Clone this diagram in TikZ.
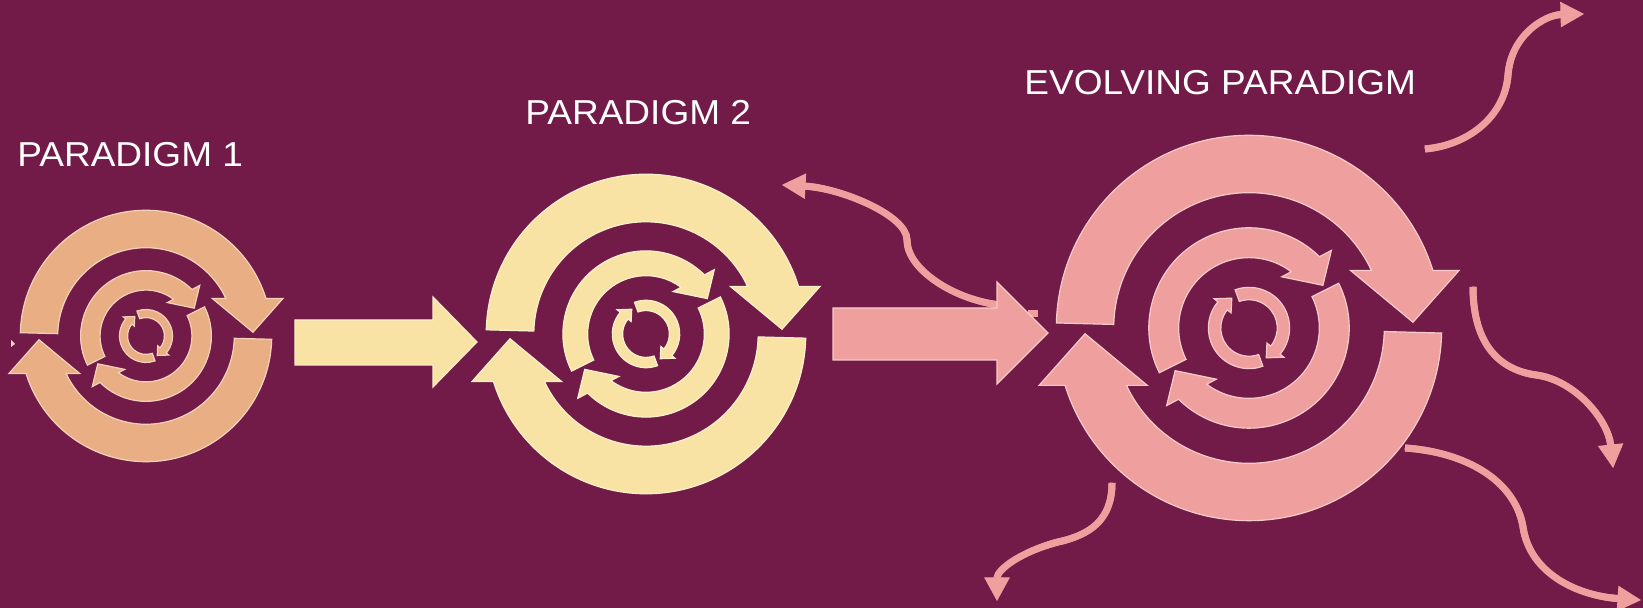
\documentclass[tikz,border=0pt]{standalone}
\usepackage{fontspec}
\setmainfont{Liberation Sans}
\usetikzlibrary{calc}
\definecolor{bgc}{RGB}{114,27,72}
\definecolor{tanc}{RGB}{234,174,132}
\definecolor{yelc}{RGB}{249,227,164}
\definecolor{pinkc}{RGB}{239,160,158}
\def\bighalf{(178.5:1.175) arc[start angle=178.5, end angle=17.33, radius=1.175] -- (1.28,0.35) -- (1,0.035) -- (0.62,0.35) -- (25.1:0.825) arc[start angle=25.1, end angle=178.5, radius=0.825] -- cycle}
\def\smallhalf{(110:1.18) arc[start angle=110, end angle=-40, radius=1.18] -- (-40:1.32) -- (-60:1) -- (-40:0.68) -- (-40:0.82) arc[start angle=-40, end angle=110, radius=0.82] -- cycle}
\newcommand\drawcycleicon[4]{%
  \begin{scope}[shift={(#1,#2)}, scale=#3, iconstyle/.style={fill=#4, draw=#4!55!white, line width=0.6pt, line join=miter}]
    \path[iconstyle] \bighalf;
    \path[iconstyle, rotate=180] \bighalf;
    \path[iconstyle, rotate=28, scale=0.52] \bighalf;
    \path[iconstyle, rotate=208, scale=0.52] \bighalf;
    \path[iconstyle, scale=0.21] \smallhalf;
    \path[iconstyle, scale=0.21, rotate=180] \smallhalf;
  \end{scope}}
\def\hw{1.75pt}
\newcommand\wavearrow[1]{%
  \coordinate (#1E) at ($(#1T)!11pt!(#1C4)$);
  \fill[wavefill] ($(#1S)!\hw!90:(#1C1)$)
     .. controls ($(#1C1)!\hw!-90:(#1S)$) and ($(#1C2)!\hw!90:(#1M)$) .. ($(#1M)!\hw!-90:(#1C2)$)
     -- ($(#1M)!\hw!90:(#1C3)$)
     .. controls ($(#1C3)!\hw!-90:(#1M)$) and ($(#1C4)!\hw!90:(#1E)$) .. ($(#1E)!\hw!-90:(#1C4)$)
     -- ($(#1E)!\hw!90:(#1C4)$)
     .. controls ($(#1C4)!\hw!-90:(#1E)$) and ($(#1C3)!\hw!90:(#1M)$) .. ($(#1M)!\hw!-90:(#1C3)$)
     -- ($(#1M)!\hw!90:(#1C2)$)
     .. controls ($(#1C2)!\hw!-90:(#1M)$) and ($(#1C1)!\hw!90:(#1S)$) .. ($(#1S)!\hw!-90:(#1C1)$)
     -- cycle;
  \foreach \lw in {3.5pt,2.6pt,1.8pt,1pt,0.4pt}{%
    \draw[wavestroke, line width=\lw] (#1S) .. controls (#1C1) and (#1C2) .. (#1M) .. controls (#1C3) and (#1C4) .. (#1E);}
  \filldraw[wavefill, draw=pinkc, line width=0.5pt, line join=miter] (#1T) -- ($(#1E)!6pt!90:(#1T)$) -- ($(#1E)!6pt!-90:(#1T)$) -- cycle;
  \fill[wavefill] ($(#1T)!0.5!(#1E)$) -- ($(#1E)!3pt!90:(#1T)$) -- ($(#1E)!3pt!-90:(#1T)$) -- cycle;
}
\tikzset{
  lbl/.style={text=white, inner sep=0pt, font=\fontsize{17.3pt}{20pt}\selectfont},
  wavefill/.style={fill=pinkc},
  wavestroke/.style={draw=pinkc, line cap=butt},
  blockarrow/.style={line width=0.6pt, line join=miter},
}
\begin{document}
\begin{tikzpicture}[x=0.5pt, y=0.5pt]
\useasboundingbox (0,0) rectangle (1643,608);
\fill[bgc] (0,0) rectangle (1643,608);

% control points of the curved arrows
\coordinate (aS) at (1000,303); \coordinate (aC1) at (955,308); \coordinate (aC2) at (907,338);
\coordinate (aM) at (907,368);  \coordinate (aC3) at (907,393); \coordinate (aC4) at (840,420); \coordinate (aT) at (783,423);
\coordinate (bS) at (1425,459); \coordinate (bC1) at (1470,463); \coordinate (bC2) at (1505,493);
\coordinate (bM) at (1508,533); \coordinate (bC3) at (1511,573); \coordinate (bC4) at (1545,593); \coordinate (bT) at (1583,594);
\coordinate (cS) at (1473,321); \coordinate (cC1) at (1473,263); \coordinate (cC2) at (1500,238);
\coordinate (cM) at (1536,233); \coordinate (cC3) at (1575,228); \coordinate (cC4) at (1608,188); \coordinate (cT) at (1613,141);
\coordinate (dS) at (1405,160); \coordinate (dC1) at (1465,156); \coordinate (dC2) at (1515,128);
\coordinate (dM) at (1523,81);  \coordinate (dC3) at (1530,33);  \coordinate (dC4) at (1580,12);  \coordinate (dT) at (1640,8);
\coordinate (eS) at (1112,125); \coordinate (eC1) at (1112,88);  \coordinate (eC2) at (1090,73);
\coordinate (eM) at (1058,66);  \coordinate (eC3) at (1020,56);  \coordinate (eC4) at (997,38);   \coordinate (eT) at (997,8);

\wavearrow{a}
\wavearrow{b}
\wavearrow{c}
\wavearrow{d}
\wavearrow{e}

% block arrows
\path[blockarrow, fill=yelc, draw=yelc!60!white] (295,243) -- (433,243) -- (433,221) -- (477,266) -- (433,311) -- (433,288) -- (295,288) -- cycle;
\fill[pinkc] (1028,291) rectangle (1038,298);
\path[blockarrow, fill=pinkc, draw=pinkc!55!white] (833,248) -- (997,248) -- (997,224) -- (1048,275) -- (997,326) -- (997,300) -- (833,300) -- cycle;

% tiny fragment at the left edge
\fill[tanc!50!white] (11,268) -- (15,264) -- (11,261) -- cycle;

% cycle icons
\drawcycleicon{146}{272}{107}{tanc}
\drawcycleicon{646}{274}{136}{yelc}
\drawcycleicon{1249}{280}{164}{pinkc}

% labels
\node[lbl, anchor=base west] (t1) at (17,441) {\scalebox{1.07}[1]{PARADIGM 1}};
\node[lbl, anchor=base west] (t2) at (525,483) {\scalebox{1.07}[1]{PARADIGM 2}};
\node[lbl, anchor=base west] (t3) at (1024,513) {\scalebox{1.07}[1]{EVOLVING PARADIGM}};
\end{tikzpicture}
\end{document}
